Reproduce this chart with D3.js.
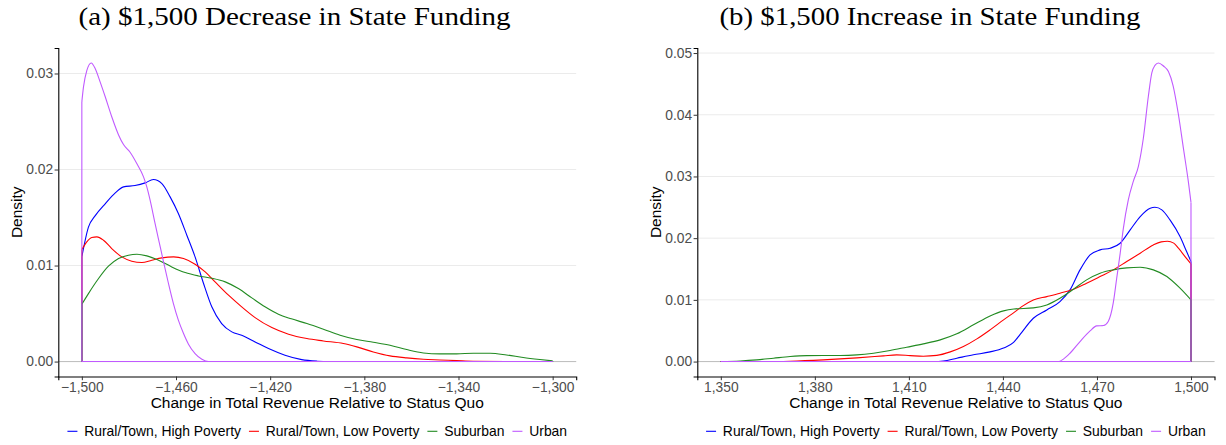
<!DOCTYPE html>
<html><head><meta charset="utf-8">
<script src="https://cdn.jsdelivr.net/npm/d3@7"></script>
<style>body{margin:0;background:#fff}svg{display:block}</style>
</head><body>
<svg id="chart" width="1226" height="445"></svg>
<script>
// ---- data ----
const seriesNames = ["Rural/Town, High Poverty", "Rural/Town, Low Poverty", "Suburban", "Urban"];
const seriesColors = ["#0000FF", "#FF0000", "#228B22", "#C05AFF"];
const panelTitles = ["(a) $1,500 Decrease in State Funding", "(b) $1,500 Increase in State Funding"];
const xTitle = "Change in Total Revenue Relative to Status Quo";
const yTitle = "Density";
const decTicksX = [-1500, -1460, -1420, -1380, -1340, -1300];
const decTicksY = [0, 0.01, 0.02, 0.03];
const incTicksX = [1350, 1380, 1410, 1440, 1470, 1500];
const incTicksY = [0, 0.01, 0.02, 0.03, 0.04, 0.05];
const decRange = [-1500, -1300];
const incRange = [1350, 1500];

const decHigh = [[-1500,0.0109],[-1497.2,0.0140],[-1494.3,0.0152],[-1490,0.01646],[-1485.8,0.01757],[-1482.3,0.01819],[-1477.4,0.01833],[-1473.1,0.01861],[-1469.6,0.01896],[-1466,0.01854],[-1462.5,0.01715],[-1459,0.01542],[-1455.4,0.01316],[-1451.9,0.0109],[-1448.3,0.00813],[-1444.8,0.0057],[-1440.6,0.00396],[-1436.3,0.00309],[-1432.1,0.00274],[-1426.4,0.00205],[-1420.7,0.00135],[-1413.7,0.00066],[-1406.6,0.0002],[-1400,0.00004],[-1395,0],[-1300,0]];
const decLow = [[-1500,0.01167],[-1497.9,0.01247],[-1495.8,0.01292],[-1493.6,0.01299],[-1490.8,0.01264],[-1487.3,0.01177],[-1483,0.0109],[-1478.8,0.01045],[-1474.5,0.01031],[-1470.3,0.01056],[-1466,0.0108],[-1461,0.0109],[-1456.8,0.01073],[-1451.9,0.01014],[-1447.6,0.00934],[-1443.4,0.0083],[-1437.7,0.00691],[-1432.1,0.0057],[-1426.4,0.00458],[-1419.3,0.00354],[-1412.2,0.00285],[-1404.4,0.0024],[-1397.4,0.00215],[-1388.9,0.00188],[-1383.2,0.00153],[-1376.2,0.001],[-1369.1,0.00059],[-1362,0.00038],[-1354.9,0.00024],[-1347.9,0.00017],[-1340.8,0.0001],[-1333.7,0.00003],[-1320,0],[-1300,0]];
const decSub = [[-1500,0.00597],[-1497.2,0.00708],[-1492.9,0.00865],[-1488.7,0.00993],[-1484.4,0.01073],[-1480.2,0.01108],[-1476.6,0.01118],[-1472.4,0.01101],[-1467.4,0.01056],[-1461.8,0.00986],[-1456.1,0.00927],[-1450.5,0.00892],[-1444.8,0.00868],[-1439.1,0.0083],[-1433.5,0.0076],[-1427.8,0.00663],[-1422.2,0.0057],[-1416.5,0.00493],[-1411,0.00445],[-1404.4,0.00396],[-1397.4,0.00337],[-1390.3,0.00274],[-1383.2,0.00229],[-1376.2,0.00201],[-1369.1,0.0017],[-1362,0.00125],[-1354.9,0.0009],[-1347.9,0.0008],[-1340.8,0.0008],[-1333.7,0.00087],[-1326.6,0.00087],[-1319.6,0.00069],[-1312.5,0.00042],[-1305.4,0.00021],[-1300,0.00007]];
const decUrb = [[-1500,0.02705],[-1499.3,0.0286],[-1497.9,0.0303],[-1496,0.0311],[-1494.3,0.0305],[-1492.2,0.0291],[-1490.1,0.0276],[-1487.3,0.0255],[-1484.4,0.0236],[-1482.3,0.0226],[-1479.5,0.0218],[-1476.6,0.0206],[-1473.8,0.01924],[-1472.4,0.01819],[-1471,0.01681],[-1468.9,0.01438],[-1466.7,0.01194],[-1465.3,0.01038],[-1463.2,0.00813],[-1461.1,0.00604],[-1459,0.00431],[-1456.8,0.00292],[-1454.7,0.00181],[-1451.9,0.00083],[-1449,0.00024],[-1446.2,0],[-1300,0]];

const incHigh = [[1350,0],[1418,0],[1421,0.0001],[1425.3,0.00055],[1430.6,0.0011],[1435.9,0.00157],[1440.2,0.0022],[1443.4,0.0031],[1445.5,0.0044],[1449.7,0.00702],[1454,0.00837],[1458.2,0.00972],[1461.4,0.01162],[1464.6,0.01486],[1467.8,0.01729],[1471,0.0181],[1474.2,0.01837],[1477.4,0.01918],[1480.6,0.02134],[1483.8,0.0235],[1487,0.02485],[1488.5,0.025],[1490.7,0.02458],[1493.3,0.02296],[1496.5,0.02026],[1498.6,0.01783],[1500,0.01621]];
const incLow = [[1350,0],[1365,0],[1372.1,0.00006],[1382.7,0.00028],[1393.4,0.0006],[1401.9,0.00092],[1406.1,0.00108],[1410.4,0.00097],[1414.6,0.00087],[1418.9,0.001],[1423.2,0.00157],[1427.4,0.00244],[1431.7,0.00368],[1435.9,0.00514],[1440.2,0.00676],[1443.9,0.0081],[1446,0.0089],[1449.7,0.00999],[1454,0.01053],[1458.2,0.01108],[1462.5,0.01172],[1466.7,0.0127],[1471,0.01378],[1475.2,0.01486],[1479.5,0.01621],[1483.8,0.01756],[1488,0.01891],[1490.5,0.0194],[1492.5,0.0195],[1494.5,0.0192],[1496,0.01837],[1498.1,0.01702],[1500,0.01583]];
const incSub = [[1350,0],[1356.2,0.0001],[1361.5,0.00028],[1366.8,0.00055],[1372.1,0.00082],[1377.4,0.00096],[1382.7,0.00098],[1388.1,0.00098],[1393.4,0.00108],[1398.7,0.00136],[1404,0.00179],[1409.3,0.00233],[1414.6,0.00287],[1420,0.00352],[1425.3,0.0045],[1430.6,0.00595],[1435.9,0.0074],[1440.2,0.00822],[1443.5,0.00852],[1449.7,0.0087],[1454,0.00918],[1458.2,0.01026],[1462.5,0.01172],[1466.7,0.01324],[1471,0.01432],[1475.2,0.01486],[1479.5,0.01518],[1483.8,0.01529],[1488,0.01486],[1492.3,0.01378],[1496.5,0.01189],[1500,0.00999]];
const incUrb = [[1350,0],[1457.7,0],[1459.3,0.0004],[1461.4,0.00135],[1464.6,0.00324],[1467.8,0.00497],[1469.9,0.00578],[1472.1,0.00585],[1473.6,0.0065],[1475.2,0.0095],[1476.3,0.0135],[1477.4,0.0175],[1478.4,0.0215],[1480,0.0262],[1481.6,0.0292],[1483.2,0.0316],[1484.8,0.0362],[1486.4,0.0430],[1487.5,0.0468],[1488.5,0.0480],[1489.6,0.0484],[1491.2,0.0479],[1492.8,0.0470],[1494.3,0.0447],[1496,0.0400],[1497.6,0.0345],[1499.2,0.0290],[1500,0.0258]];

// ---- layout ----
const svg = d3.select("#chart");
const SANS = "'Liberation Sans', Arial, sans-serif";
const fmtX = v => d3.format(",")(v).replace("-", "\u2212");

const panels = [
  {title: panelTitles[0], titleX: 294.5, titleW: 432, x0: 58.3, x1: 576.2, range: decRange, ticksX: decTicksX, ticksY: decTicksY, series: [decHigh, decLow, decSub, decUrb]},
  {title: panelTitles[1], titleX: 930, titleW: 421, x0: 697.3, x1: 1214.5, range: incRange, ticksX: incTicksX, ticksY: incTicksY, series: [incHigh, incLow, incSub, incUrb]}
];
const yTop = 48, yBot = 376.5;

panels.forEach(p => {
  const g = svg.append("g");
  const span = p.range[1] - p.range[0];
  const x = d3.scaleLinear().domain([p.range[0] - 0.05 * span, p.range[1] + 0.05 * span]).range([p.x0, p.x1]);
  const ymax = d3.max(p.series, s => d3.max(s, d => d[1]));
  const y = d3.scaleLinear().domain([-0.05 * ymax, 1.05 * ymax]).range([yBot, yTop]);

  // title
  g.append("text").attr("x", p.titleX).attr("y", 25).attr("text-anchor", "middle")
    .attr("font-family", "'Liberation Serif', 'Times New Roman', serif").attr("font-size", 25)
    .attr("textLength", p.titleW).attr("lengthAdjust", "spacingAndGlyphs")
    .attr("fill", "#000").text(p.title);

  // gridlines
  g.selectAll(".grid").data(p.ticksY).enter().append("line")
    .attr("x1", p.x0).attr("x2", p.x1).attr("y1", d => y(d)).attr("y2", d => y(d))
    .attr("stroke", "#ebebeb").attr("stroke-width", 1);
  g.append("line").attr("x1", p.x0).attr("x2", p.x1).attr("y1", y(0)).attr("y2", y(0))
    .attr("stroke", "#bdbdbd").attr("stroke-width", 1);

  // density curves
  const line = d3.line().x(d => x(d[0])).y(d => y(d[1])).curve(d3.curveMonotoneX);
  p.series.forEach((s, i) => {
    const first = s[0], last = s[s.length - 1];
    const base = [[last[0], last[1]], [last[0], 0], [first[0], 0], [first[0], first[1]]];
    g.append("path").attr("d", d3.line().x(d => x(d[0])).y(d => y(d[1]))(base))
      .attr("fill", "none").attr("stroke", seriesColors[i]).attr("stroke-width", 1.1);
    g.append("path").attr("d", line(s)).attr("fill", "none")
      .attr("stroke", seriesColors[i]).attr("stroke-width", 1.1).attr("stroke-linejoin", "round");
  });

  // axes
  const ax = g.append("g").attr("transform", `translate(0,${yBot})`)
    .call(d3.axisBottom(x).tickValues(p.ticksX).tickFormat(fmtX).tickSize(3.7).tickPadding(2.3));
  ax.select(".domain").attr("stroke", "#000").attr("stroke-width", 1.1);
  ax.selectAll(".tick line").attr("stroke", "#333");
  ax.selectAll(".tick text").attr("font-family", SANS).attr("font-size", 13.8).attr("fill", "#4d4d4d");

  const ay = g.append("g").attr("transform", `translate(${p.x0},0)`)
    .call(d3.axisLeft(y).tickValues(p.ticksY).tickFormat(d3.format(".2f")).tickSize(3.7).tickPadding(1.5));
  ay.select(".domain").attr("stroke", "#000").attr("stroke-width", 1.1);
  ay.selectAll(".tick line").attr("stroke", "#333");
  ay.selectAll(".tick text").attr("font-family", SANS).attr("font-size", 13.8).attr("fill", "#4d4d4d");

  // axis titles
  g.append("text").attr("x", (p.x0 + p.x1) / 2).attr("y", 407.5).attr("text-anchor", "middle")
    .attr("font-family", SANS).attr("font-size", 15.5).attr("fill", "#000").text(xTitle);
  g.append("text").attr("transform", `translate(${p.x0 - 36.3},${(yTop + yBot) / 2}) rotate(-90)`)
    .attr("text-anchor", "middle").attr("font-family", SANS).attr("font-size", 15.5)
    .attr("fill", "#000").text(yTitle);

  // legend
  const lg = g.append("g");
  const keyW = 10, keyGap = 6.8, itemGap = 8;
  const items = seriesNames.map((n, i) => {
    const t = lg.append("text").attr("y", 436).attr("font-family", SANS).attr("font-size", 13.9)
      .attr("fill", "#000").text(n);
    return {t, w: t.node().getComputedTextLength(), i};
  });
  const total = d3.sum(items, d => keyW + keyGap + d.w) + itemGap * (items.length - 1);
  let cx = (p.x0 + p.x1) / 2 - total / 2;
  items.forEach(it => {
    lg.append("line").attr("x1", cx).attr("x2", cx + keyW).attr("y1", 431.3).attr("y2", 431.3)
      .attr("stroke", seriesColors[it.i]).attr("stroke-width", 1.1);
    it.t.attr("x", cx + keyW + keyGap);
    cx += keyW + keyGap + it.w + itemGap;
  });
});
</script>
</body></html>
